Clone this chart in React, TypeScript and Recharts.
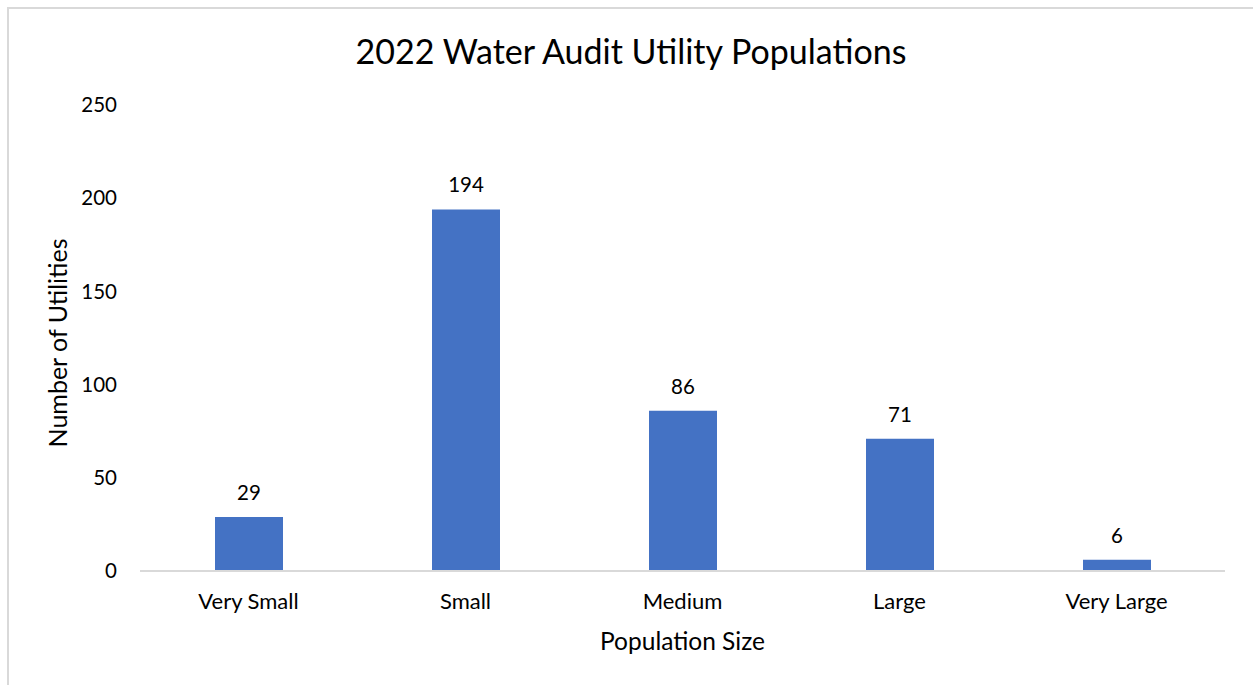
import React from 'react';
import { BarChart, Bar, XAxis, YAxis, LabelList } from 'recharts';

const categories = ['Very Small', 'Small', 'Medium', 'Large', 'Very Large'];
const utilityCounts = [29, 194, 86, 71, 6];
const yTicks = [0, 50, 100, 150, 200, 250];

const data = categories.map((name, i) => ({ name, count: utilityCounts[i] }));

const font = 'Lato, "Open Sans", sans-serif';

const App: React.FC = () => {
    return (
        <div style={{ position: 'fixed', left: 0, top: 0, width: 1253, height: 685, overflow: 'hidden', background: '#fff', fontFamily: font }}>
            <div style={{ position: 'absolute', left: 7, top: 7, width: 1300, height: 720, border: '2px solid #d9d9d9', boxSizing: 'border-box' }} />
            <div style={{ position: 'absolute', left: 0, top: 27, width: 1262, textAlign: 'center', fontSize: 34, color: '#000', lineHeight: '48px' }}>
                2022 Water Audit Utility Populations
            </div>
            <div style={{ position: 'absolute', left: 0, top: 0 }}>
                <BarChart width={1253} height={685} data={data} margin={{ top: 105, right: 28, bottom: 34, left: 0 }}>
                    <XAxis
                        dataKey="name"
                        axisLine={{ stroke: '#d9d9d9', strokeWidth: 2 }}
                        tickLine={false}
                        tickSize={0}
                        tickMargin={22}
                        height={80}
                        tick={{ fill: '#000', fontSize: 22, fontFamily: font }}
                        label={{ value: 'Population Size', position: 'insideBottom', offset: 1, fill: '#000', fontSize: 24.5, fontFamily: font }}
                    />
                    <YAxis
                        width={140}
                        domain={[0, 250]}
                        ticks={yTicks}
                        axisLine={false}
                        tickLine={false}
                        tickSize={0}
                        tickMargin={23}
                        tick={{ fill: '#000', fontSize: 20.5, fontFamily: font }}
                        label={{ value: 'Number of Utilities', angle: -90, position: 'center', dx: -12, dy: 5, fill: '#000', fontSize: 25, fontFamily: font }}
                    />
                    <Bar dataKey="count" fill="#4472C4" barSize={68} isAnimationActive={false}>
                        <LabelList dataKey="count" position="top" offset={17} fill="#000" fontSize={20.5} fontFamily={font} />
                    </Bar>
                </BarChart>
            </div>
        </div>
    );
};

export default App;
